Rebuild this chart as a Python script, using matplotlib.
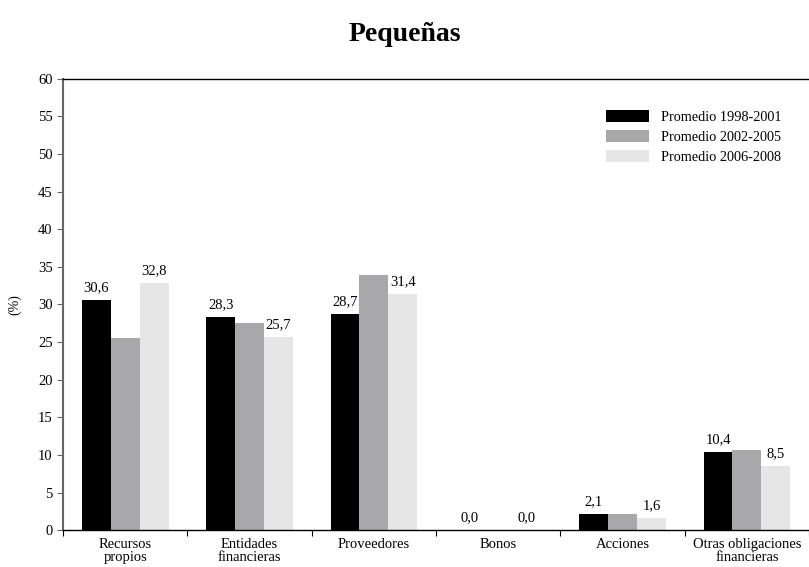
import numpy as np
import matplotlib
matplotlib.use('Agg')
import matplotlib.pyplot as plt

plt.rcParams['font.family'] = ['Liberation Serif', 'DejaVu Serif']

# Datos
categorias = ['Recursos\npropios', 'Entidades\nfinancieras', 'Proveedores',
              'Bonos', 'Acciones', 'Otras obligaciones\nfinancieras']
series = ['Promedio 1998-2001', 'Promedio 2002-2005', 'Promedio 2006-2008']
prom_1998_2001 = [30.6, 28.3, 28.7, 0.0, 2.1, 10.4]
prom_2002_2005 = [25.6, 27.6, 33.9, 0.0, 2.2, 10.6]
prom_2006_2008 = [32.8, 25.7, 31.4, 0.0, 1.6, 8.5]
colores = ['#000000', '#a8a8aa', '#e6e6e6']

fig = plt.figure(figsize=(8.09, 5.67), dpi=100)
ax = fig.add_axes([0.078, 0.065, 0.922, 0.796])

x = np.arange(len(categorias))
ancho = 0.232
valores = [prom_1998_2001, prom_2002_2005, prom_2006_2008]
for i, (vals, col, nombre) in enumerate(zip(valores, colores, series)):
    barras = ax.bar(x + (i - 1) * ancho, vals, ancho, color=col, label=nombre)
    # Solo se etiquetan la primera y la tercera serie
    if i != 1:
        for b, v in zip(barras, vals):
            ax.text(b.get_x() + b.get_width() / 2, v + 0.8,
                    '{:.1f}'.format(v).replace('.', ','),
                    ha='center', va='bottom', fontsize=10.5)

ax.set_xlim(-0.5, len(categorias) - 0.5)
ax.set_ylim(0, 60)
ax.set_yticks(np.arange(0, 61, 5))
ax.tick_params(axis='y', labelsize=10.5, length=4, direction='out', color='#666666')
ax.set_xticks(np.arange(-0.5, len(categorias), 1))
ax.set_xticks(x, minor=True)
ax.set_xticklabels([])
ax.set_xticklabels(categorias, minor=True, fontsize=10.5, linespacing=1.0)
ax.tick_params(axis='x', which='major', length=4, direction='out')
ax.tick_params(axis='x', which='minor', length=0, pad=6)

ax.spines['right'].set_visible(False)
ax.spines['left'].set_color('#666666')
ax.spines['left'].set_linewidth(1.5)
ax.spines['top'].set_linewidth(1.0)
ax.spines['bottom'].set_linewidth(1.0)

ax.set_ylabel('(%)', fontsize=10, labelpad=12)

fig.suptitle('Pequeñas', fontsize=20, fontweight='bold', y=0.962)

ax.legend(loc='upper right', bbox_to_anchor=(0.981, 0.96), frameon=False,
          fontsize=10.3, handlelength=3.0, handleheight=0.9, handletextpad=0.9,
          labelspacing=0.45)

fig.savefig('out.png', dpi=100)
